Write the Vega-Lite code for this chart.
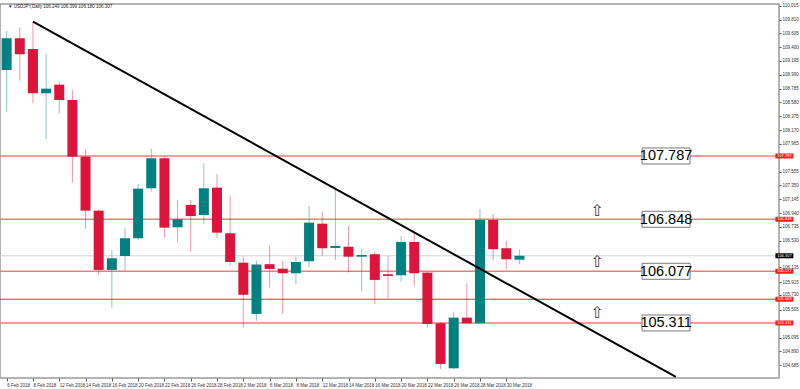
{
  "$schema": "https://vega.github.io/schema/vega-lite/v6.json",
  "width": 779,
  "height": 374,
  "autosize": {"type": "none"},
  "padding": {"left": 0, "top": 4, "right": 21, "bottom": 11},
  "background": "white",
  "config": {
    "view": {"stroke": "#9a9a9a", "strokeWidth": 1.5},
    "font": "Liberation Sans",
    "axis": {"labelFontSize": 4.5, "labelColor": "#333333", "tickColor": "#555555", "grid": false, "domain": false, "title": null, "labelOverlap": false, "labelFlush": false, "tickCount": 60}
  },
  "datasets": {
    "candles": [
      {"date": "2018-02-06", "i": 0, "open": 109.062, "high": 109.640, "low": 108.444, "close": 109.532},
      {"date": "2018-02-07", "i": 1, "open": 109.532, "high": 109.695, "low": 108.903, "close": 109.295},
      {"date": "2018-02-08", "i": 2, "open": 109.373, "high": 109.778, "low": 108.568, "close": 108.717},
      {"date": "2018-02-09", "i": 3, "open": 108.717, "high": 109.310, "low": 108.035, "close": 108.785},
      {"date": "2018-02-12", "i": 4, "open": 108.844, "high": 108.889, "low": 108.420, "close": 108.617},
      {"date": "2018-02-13", "i": 5, "open": 108.617, "high": 108.765, "low": 107.391, "close": 107.777},
      {"date": "2018-02-14", "i": 6, "open": 107.777, "high": 107.886, "low": 106.705, "close": 106.976},
      {"date": "2018-02-15", "i": 7, "open": 106.976, "high": 106.990, "low": 106.023, "close": 106.097},
      {"date": "2018-02-16", "i": 8, "open": 106.097, "high": 106.393, "low": 105.538, "close": 106.270},
      {"date": "2018-02-19", "i": 9, "open": 106.304, "high": 106.715, "low": 106.086, "close": 106.567},
      {"date": "2018-02-20", "i": 10, "open": 106.567, "high": 107.372, "low": 106.542, "close": 107.302},
      {"date": "2018-02-21", "i": 11, "open": 107.308, "high": 107.895, "low": 107.258, "close": 107.753},
      {"date": "2018-02-22", "i": 12, "open": 107.753, "high": 107.770, "low": 106.582, "close": 106.724},
      {"date": "2018-02-23", "i": 13, "open": 106.730, "high": 107.135, "low": 106.502, "close": 106.849},
      {"date": "2018-02-26", "i": 14, "open": 107.061, "high": 107.135, "low": 106.368, "close": 106.897},
      {"date": "2018-02-27", "i": 15, "open": 106.912, "high": 107.679, "low": 106.779, "close": 107.308},
      {"date": "2018-02-28", "i": 16, "open": 107.317, "high": 107.520, "low": 106.567, "close": 106.650},
      {"date": "2018-03-01", "i": 17, "open": 106.641, "high": 107.198, "low": 106.161, "close": 106.215},
      {"date": "2018-03-02", "i": 18, "open": 106.205, "high": 106.294, "low": 105.244, "close": 105.729},
      {"date": "2018-03-05", "i": 19, "open": 105.445, "high": 106.238, "low": 105.345, "close": 106.178},
      {"date": "2018-03-06", "i": 20, "open": 106.183, "high": 106.456, "low": 105.837, "close": 106.112},
      {"date": "2018-03-07", "i": 21, "open": 106.116, "high": 106.235, "low": 105.445, "close": 106.048},
      {"date": "2018-03-08", "i": 22, "open": 106.048, "high": 106.294, "low": 105.885, "close": 106.215},
      {"date": "2018-03-09", "i": 23, "open": 106.226, "high": 107.046, "low": 106.137, "close": 106.798},
      {"date": "2018-03-12", "i": 24, "open": 106.783, "high": 106.961, "low": 106.304, "close": 106.419},
      {"date": "2018-03-13", "i": 25, "open": 106.423, "high": 107.283, "low": 106.245, "close": 106.453},
      {"date": "2018-03-14", "i": 26, "open": 106.442, "high": 106.754, "low": 106.057, "close": 106.294},
      {"date": "2018-03-15", "i": 27, "open": 106.294, "high": 106.408, "low": 105.775, "close": 106.319},
      {"date": "2018-03-16", "i": 28, "open": 106.330, "high": 106.368, "low": 105.593, "close": 105.949},
      {"date": "2018-03-19", "i": 29, "open": 106.033, "high": 106.304, "low": 105.677, "close": 106.008},
      {"date": "2018-03-20", "i": 30, "open": 106.018, "high": 106.601, "low": 105.923, "close": 106.512},
      {"date": "2018-03-21", "i": 31, "open": 106.512, "high": 106.641, "low": 105.864, "close": 106.048},
      {"date": "2018-03-22", "i": 32, "open": 106.057, "high": 106.070, "low": 105.241, "close": 105.296},
      {"date": "2018-03-23", "i": 33, "open": 105.307, "high": 105.320, "low": 104.629, "close": 104.703},
      {"date": "2018-03-26", "i": 34, "open": 104.639, "high": 105.479, "low": 104.625, "close": 105.390},
      {"date": "2018-03-27", "i": 35, "open": 105.390, "high": 105.900, "low": 105.300, "close": 105.307},
      {"date": "2018-03-28", "i": 36, "open": 105.307, "high": 107.001, "low": 105.300, "close": 106.838},
      {"date": "2018-03-29", "i": 37, "open": 106.838, "high": 106.927, "low": 106.245, "close": 106.404},
      {"date": "2018-03-30", "i": 38, "open": 106.419, "high": 106.527, "low": 106.107, "close": 106.255},
      {"date": "2018-04-02", "i": 39, "open": 106.249, "high": 106.399, "low": 106.180, "close": 106.307}
    ],
    "levels": [
      {"level": 107.787, "label": "107.787", "kind": "key"},
      {"level": 106.848, "label": "106.848", "kind": "key"},
      {"level": 106.077, "label": "106.077", "kind": "key"},
      {"level": 105.311, "label": "105.311", "kind": "key"},
      {"level": 105.663, "label": "105.663", "kind": "minor"}
    ],
    "current": [{"level": 106.307, "label": "106.307"}],
    "trend": [{"i": 2, "p": 109.778}, {"i": 50.9, "p": 104.51}],
    "arrows": [{"i": 44.9, "p": 106.976}, {"i": 44.9, "p": 106.22}, {"i": 44.9, "p": 105.464}],
    "header": [{"i": 0.1, "p": 109.99, "text": "▼ USDJPY,Daily  106.249 106.399 106.180 106.307"}]
  },
  "layer": [
    {
      "data": {"name": "candles"},
      "mark": {"type": "bar", "size": 10, "opacity": 0},
      "encoding": {
        "x": {
          "field": "i", "type": "quantitative",
          "scale": {"domain": [-0.125, 58.36], "nice": false, "zero": false},
          "axis": {
            "values": [0, 2, 4, 6, 8, 10, 12, 14, 16, 18, 20, 22, 24, 26, 28, 30, 32, 34, 36, 38],
            "labelExpr": "['6 Feb 2018','8 Feb 2018','12 Feb 2018','14 Feb 2018','16 Feb 2018','20 Feb 2018','22 Feb 2018','26 Feb 2018','28 Feb 2018','2 Mar 2018','6 Mar 2018','8 Mar 2018','12 Mar 2018','14 Mar 2018','16 Mar 2018','20 Mar 2018','22 Mar 2018','26 Mar 2018','28 Mar 2018','30 Mar 2018'][round(datum.value / 2)]",
            "labelAlign": "left",
            "labelBaseline": "top",
            "labelPadding": 1,
            "labelDx": 0.5,
            "tickSize": 3,
            "tickCount": 60
          }
        },
        "y": {
          "field": "open", "type": "quantitative",
          "scale": {"domain": [104.495, 110.04], "nice": false, "zero": false},
          "axis": {
            "orient": "right",
            "values": [110.015, 109.81, 109.605, 109.4, 109.195, 108.99, 108.785, 108.58, 108.375, 108.17, 107.965, 107.555, 107.35, 107.145, 106.94, 106.735, 106.53, 106.135, 105.915, 105.73, 105.505, 105.095, 104.89, 104.685],
            "format": ".3f",
            "labelPadding": 1,
            "tickSize": 2,
            "tickCount": 60
          }
        },
        "y2": {"field": "close"}
      }
    },
    {
      "data": {"name": "current"},
      "mark": {"type": "rule", "stroke": "#cdd5dd", "strokeWidth": 1},
      "encoding": {
        "y": {"field": "level", "type": "quantitative", "scale": {"domain": [104.495, 110.04], "nice": false, "zero": false}}
      }
    },
    {
      "data": {"name": "levels"},
      "mark": {"type": "rule"},
      "encoding": {
        "y": {"field": "level", "type": "quantitative", "scale": {"domain": [104.495, 110.04], "nice": false, "zero": false}},
        "color": {"condition": {"test": "datum.kind === 'minor'", "value": "#f22a2a"}, "value": "#f57a7a"},
        "strokeWidth": {"condition": {"test": "datum.kind === 'minor'", "value": 1.1}, "value": 1.6}
      }
    },
    {
      "data": {"name": "candles"},
      "mark": {"type": "rule", "strokeWidth": 1, "opacity": 0.45},
      "encoding": {
        "x": {"field": "i", "type": "quantitative", "scale": {"domain": [-0.125, 58.36], "nice": false, "zero": false}},
        "y": {"field": "low", "type": "quantitative", "scale": {"domain": [104.495, 110.04], "nice": false, "zero": false}},
        "y2": {"field": "high"},
        "color": {"condition": {"test": "datum.close >= datum.open", "value": "#008080"}, "value": "#dc143c"}
      }
    },
    {
      "data": {"name": "candles"},
      "mark": {"type": "bar", "size": 10},
      "encoding": {
        "x": {"field": "i", "type": "quantitative", "scale": {"domain": [-0.125, 58.36], "nice": false, "zero": false}},
        "y": {"field": "open", "type": "quantitative", "scale": {"domain": [104.495, 110.04], "nice": false, "zero": false}},
        "y2": {"field": "close"},
        "color": {"condition": {"test": "datum.close >= datum.open", "value": "#008080"}, "value": "#dc143c"}
      }
    },
    {
      "data": {"name": "trend"},
      "mark": {"type": "line", "color": "#000000", "strokeWidth": 2, "clip": true},
      "encoding": {
        "x": {"field": "i", "type": "quantitative", "scale": {"domain": [-0.125, 58.36], "nice": false, "zero": false}},
        "y": {"field": "p", "type": "quantitative", "scale": {"domain": [104.495, 110.04], "nice": false, "zero": false}}
      }
    },
    {
      "data": {"name": "levels"},
      "transform": [{"filter": "datum.kind === 'key'"}],
      "mark": {"type": "tick", "orient": "horizontal", "size": 48, "thickness": 16, "fill": "white", "stroke": "#7a7a7a", "strokeWidth": 1, "opacity": 1},
      "encoding": {
        "x": {"datum": 50.15, "type": "quantitative", "scale": {"domain": [-0.125, 58.36], "nice": false, "zero": false}},
        "y": {"field": "level", "type": "quantitative", "scale": {"domain": [104.495, 110.04], "nice": false, "zero": false}}
      }
    },
    {
      "data": {"name": "levels"},
      "transform": [{"filter": "datum.kind === 'key'"}],
      "mark": {"type": "text", "fontSize": 14.5, "color": "#000000", "align": "center", "baseline": "middle", "dy": 0.5},
      "encoding": {
        "x": {"datum": 50.15, "type": "quantitative", "scale": {"domain": [-0.125, 58.36], "nice": false, "zero": false}},
        "y": {"field": "level", "type": "quantitative", "scale": {"domain": [104.495, 110.04], "nice": false, "zero": false}},
        "text": {"field": "label"}
      }
    },
    {
      "data": {"name": "arrows"},
      "mark": {"type": "text", "text": "⇧", "font": "DejaVu Sans", "fontSize": 16, "color": "#3a3a3a", "align": "center", "baseline": "middle"},
      "encoding": {
        "x": {"field": "i", "type": "quantitative", "scale": {"domain": [-0.125, 58.36], "nice": false, "zero": false}},
        "y": {"field": "p", "type": "quantitative", "scale": {"domain": [104.495, 110.04], "nice": false, "zero": false}}
      }
    },
    {
      "data": {"name": "levels"},
      "mark": {"type": "tick", "orient": "horizontal", "size": 18, "thickness": 5, "fill": "#ff1a1a", "opacity": 1, "clip": false},
      "encoding": {
        "x": {"datum": 59.15, "type": "quantitative", "scale": {"domain": [-0.125, 58.36], "nice": false, "zero": false}},
        "y": {"field": "level", "type": "quantitative", "scale": {"domain": [104.495, 110.04], "nice": false, "zero": false}}
      }
    },
    {
      "data": {"name": "current"},
      "mark": {"type": "tick", "orient": "horizontal", "size": 18, "thickness": 5, "fill": "#000000", "opacity": 1, "clip": false},
      "encoding": {
        "x": {"datum": 59.15, "type": "quantitative", "scale": {"domain": [-0.125, 58.36], "nice": false, "zero": false}},
        "y": {"field": "level", "type": "quantitative", "scale": {"domain": [104.495, 110.04], "nice": false, "zero": false}}
      }
    },
    {
      "data": {"name": "levels"},
      "mark": {"type": "text", "fontSize": 4, "color": "white", "align": "center", "baseline": "middle", "clip": false},
      "encoding": {
        "x": {"datum": 59.15, "type": "quantitative", "scale": {"domain": [-0.125, 58.36], "nice": false, "zero": false}},
        "y": {"field": "level", "type": "quantitative", "scale": {"domain": [104.495, 110.04], "nice": false, "zero": false}},
        "text": {"field": "label"}
      }
    },
    {
      "data": {"name": "current"},
      "mark": {"type": "text", "fontSize": 4, "color": "white", "align": "center", "baseline": "middle", "clip": false},
      "encoding": {
        "x": {"datum": 59.15, "type": "quantitative", "scale": {"domain": [-0.125, 58.36], "nice": false, "zero": false}},
        "y": {"field": "level", "type": "quantitative", "scale": {"domain": [104.495, 110.04], "nice": false, "zero": false}},
        "text": {"field": "label"}
      }
    },
    {
      "data": {"name": "header"},
      "mark": {"type": "text", "fontSize": 4.5, "color": "#222222", "align": "left", "baseline": "middle"},
      "encoding": {
        "x": {"field": "i", "type": "quantitative", "scale": {"domain": [-0.125, 58.36], "nice": false, "zero": false}},
        "y": {"field": "p", "type": "quantitative", "scale": {"domain": [104.495, 110.04], "nice": false, "zero": false}},
        "text": {"field": "text"}
      }
    }
  ]
}
